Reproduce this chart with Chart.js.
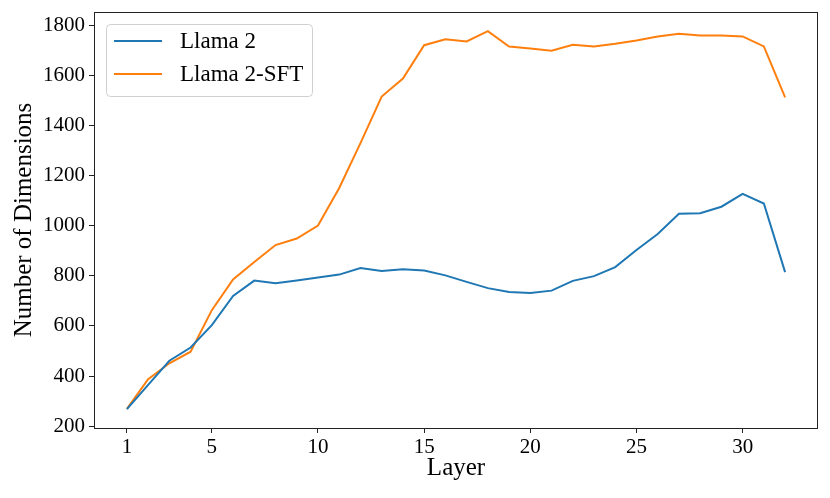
<!DOCTYPE html>
<html>
<head>
<meta charset="utf-8">
<script src="https://cdn.jsdelivr.net/npm/chart.js@4.4.1/dist/chart.umd.min.js"></script>
<style>
  html, body { margin: 0; padding: 0; background: #fff; }
  #wrap { width: 830px; height: 498px; }
</style>
</head>
<body>
<div id="wrap"><canvas id="chart_1" width="830" height="498"></canvas></div>
<script>
const layers = [1, 2, 3, 4, 5, 6, 7, 8, 9, 10, 11, 12, 13, 14, 15, 16,
  17, 18, 19, 20, 21, 22, 23, 24, 25, 26, 27, 28, 29, 30, 31, 32];
const llama2 = [268, 365, 461, 514, 603, 720, 781, 770, 781, 793, 805, 831, 819, 826, 821, 802,
  776, 751, 736, 732, 741, 780, 799, 835, 903, 967, 1048, 1050, 1076, 1127, 1089, 815];
const llama2Sft = [269, 387, 451, 497, 663, 786, 855, 923, 949, 1001, 1151, 1330, 1516, 1588, 1721, 1745,
  1736, 1777, 1716, 1708, 1699, 1723, 1716, 1727, 1740, 1756, 1767, 1760, 1760, 1756, 1716, 1513];
const xTicks = [1, 5, 10, 15, 20, 25, 30];
const yTicks = [200, 400, 600, 800, 1000, 1200, 1400, 1600, 1800];

const serif = "'Liberation Serif', 'Times New Roman', serif";

// frame around the plot + matplotlib-like legend box
const framePlugin = {
  id: "frame",
  afterDraw(chart) {
    const { ctx, chartArea: a } = chart;
    ctx.save();
    ctx.strokeStyle = "#222";
    ctx.lineWidth = 1;
    ctx.strokeRect(a.left + 0.5, a.top + 0.5, a.right - a.left - 1, a.bottom - a.top);

    // legend
    const bx = a.left + 12, by = a.top + 12, bw = 206, bh = 72;
    ctx.fillStyle = "rgba(255,255,255,0.8)";
    ctx.strokeStyle = "#d0d0d0";
    ctx.beginPath();
    ctx.roundRect(bx + 0.5, by + 0.5, bw, bh, 4);
    ctx.fill();
    ctx.stroke();
    ctx.font = "23px " + serif;
    ctx.textBaseline = "middle";
    chart.data.datasets.forEach((ds, i) => {
      const y = by + 17 + i * 33;
      ctx.strokeStyle = ds.borderColor;
      ctx.lineWidth = 2;
      ctx.beginPath();
      ctx.moveTo(bx + 8, y);
      ctx.lineTo(bx + 56, y);
      ctx.stroke();
      ctx.fillStyle = "#000";
      ctx.fillText(ds.label, bx + 74, y + 1);
    });
    ctx.restore();
  },
};

const ct_1 = document.getElementById("chart_1");

const config_1 = {
  type: "line",
  data: {
    datasets: [
      {
        label: "Llama 2",
        data: layers.map((l, i) => ({ x: l, y: llama2[i] })),
        borderColor: "#1f77b4",
        borderWidth: 2,
        pointRadius: 0,
        tension: 0,
      },
      {
        label: "Llama 2-SFT",
        data: layers.map((l, i) => ({ x: l, y: llama2Sft[i] })),
        borderColor: "#ff7f0e",
        borderWidth: 2,
        pointRadius: 0,
        tension: 0,
      },
    ],
  },
  options: {
    responsive: false,
    animation: false,
    layout: { padding: { top: 12, right: 12, left: 0, bottom: 0 } },
    plugins: {
      legend: { display: false },
      tooltip: { enabled: false },
    },
    scales: {
      x: {
        type: "linear",
        min: -0.55,
        max: 33.55,
        afterBuildTicks: (scale) => {
          scale.ticks = xTicks.map((v) => ({ value: v }));
        },
        afterFit: (scale) => {
          scale.height = 70;
          scale.paddingLeft = 0;
          scale.paddingRight = 0;
        },
        grid: { drawOnChartArea: false, drawTicks: true, tickLength: 5, color: "#222" },
        border: { display: false },
        ticks: {
          color: "#000",
          padding: 2,
          maxRotation: 0,
          callback: (v) => String(v),
          font: { size: 21, family: serif },
        },
        title: {
          display: true,
          text: "Layer",
          color: "#000",
          padding: { top: 0, bottom: 15 },
          font: { size: 25, family: serif },
        },
      },
      y: {
        min: 192.5,
        max: 1853.5,
        afterBuildTicks: (scale) => {
          scale.ticks = yTicks.map((v) => ({ value: v }));
        },
        afterFit: (scale) => {
          scale.width = 94;
          scale.paddingTop = 0;
          scale.paddingBottom = 0;
        },
        grid: { drawOnChartArea: false, drawTicks: true, tickLength: 5, color: "#222" },
        border: { display: false },
        ticks: {
          color: "#000",
          padding: 4,
          callback: (v) => String(v),
          font: { size: 21, family: serif },
        },
        title: {
          display: true,
          text: "Number of Dimensions",
          color: "#000",
          padding: { top: 9, bottom: 0 },
          font: { size: 25, family: serif },
        },
      },
    },
  },
  plugins: [framePlugin],
};

new Chart(ct_1, config_1);
</script>
</body>
</html>
